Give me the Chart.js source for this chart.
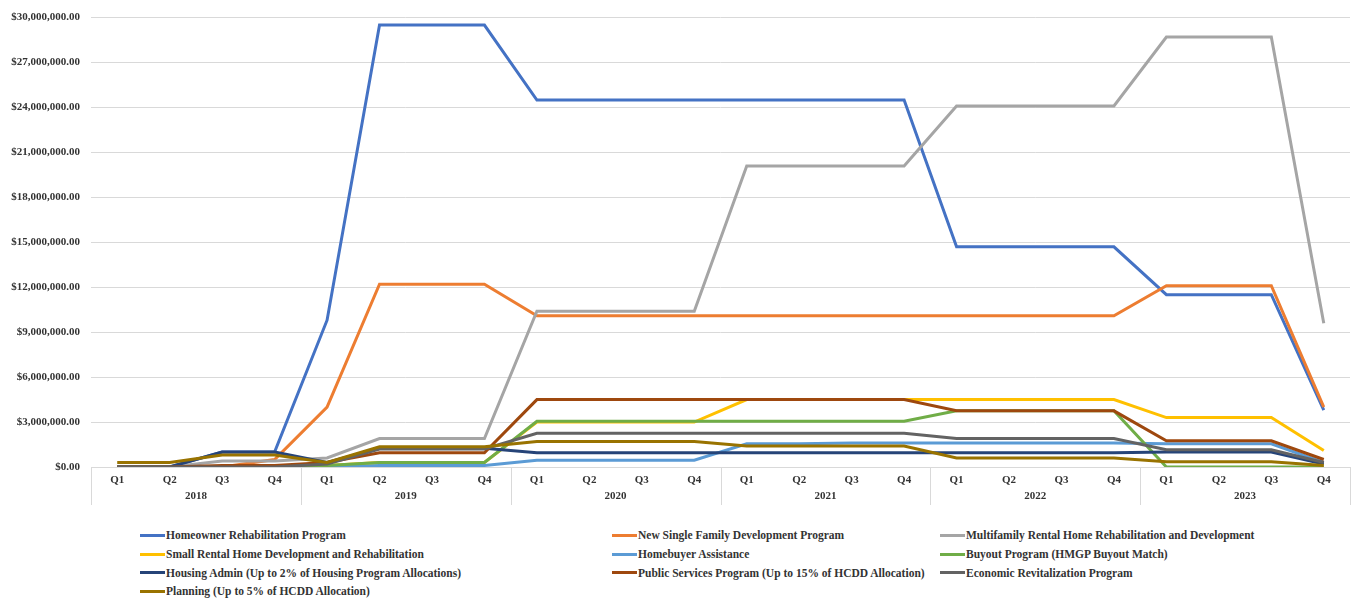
<!DOCTYPE html>
<html>
<head>
<meta charset="utf-8">
<script src="https://cdn.jsdelivr.net/npm/chart.js@4.4.1/dist/chart.umd.min.js"></script>
<style>
  html, body { margin: 0; padding: 0; background: #fff; }
  body { width: 1353px; height: 605px; position: relative; overflow: hidden;
         font-family: "Liberation Serif", "DejaVu Serif", serif; }
  #wrap { position: absolute; left: 0; top: 0; width: 1353px; height: 515px; }
  #legend { position: absolute; left: 140px; top: 526px;
            display: grid; grid-template-columns: 472px 328px 400px; grid-auto-rows: 18.7px; }
  .lg-item { display: flex; align-items: center; font-size: 11.5px; font-weight: bold; color: #333; white-space: nowrap; }
  .lg-swatch { width: 25px; height: 3px; margin-right: 1px; }
</style>
</head>
<body>
<div id="wrap"><canvas id="chart"></canvas></div>
<div id="legend"></div>
<script>
const years = ['2018', '2019', '2020', '2021', '2022', '2023'];
const quarters = ['Q1', 'Q2', 'Q3', 'Q4'];

const seriesNames = [
  'Homeowner Rehabilitation Program',
  'New Single Family Development Program',
  'Multifamily Rental Home Rehabilitation and Development',
  'Small Rental Home Development and Rehabilitation',
  'Homebuyer Assistance',
  'Buyout Program (HMGP Buyout Match)',
  'Housing Admin (Up to 2% of Housing Program Allocations)',
  'Public Services Program (Up to 15% of HCDD Allocation)',
  'Economic Revitalization Program',
  'Planning (Up to 5% of HCDD Allocation)'
];
const seriesColors = ['#4472C4', '#ED7D31', '#A5A5A5', '#FFC000', '#5B9BD5',
                      '#70AD47', '#264478', '#9E480E', '#636363', '#997300'];

// quarterly values, 2018 Q1 .. 2023 Q4
const homeowner = [0, 0, 1000000, 1000000, 9800000, 29500000, 29500000, 29500000,
  24500000, 24500000, 24500000, 24500000, 24500000, 24500000, 24500000, 24500000,
  14700000, 14700000, 14700000, 14700000, 11500000, 11500000, 11500000, 3800000];
const newSingleFamily = [0, 0, 0, 500000, 4000000, 12200000, 12200000, 12200000,
  10100000, 10100000, 10100000, 10100000, 10100000, 10100000, 10100000, 10100000,
  10100000, 10100000, 10100000, 10100000, 12100000, 12100000, 12100000, 4000000];
const multifamily = [0, 0, 400000, 400000, 600000, 1900000, 1900000, 1900000,
  10400000, 10400000, 10400000, 10400000, 20100000, 20100000, 20100000, 20100000,
  24100000, 24100000, 24100000, 24100000, 28700000, 28700000, 28700000, 9600000];
const smallRental = [0, 0, 0, 0, 100000, 300000, 300000, 300000,
  3000000, 3000000, 3000000, 3000000, 4500000, 4500000, 4500000, 4500000,
  4500000, 4500000, 4500000, 4500000, 3300000, 3300000, 3300000, 1100000];
const homebuyer = [0, 0, 0, 0, 0, 100000, 100000, 100000,
  450000, 450000, 450000, 450000, 1550000, 1550000, 1600000, 1600000,
  1600000, 1600000, 1600000, 1600000, 1550000, 1550000, 1550000, 300000];
const buyout = [0, 0, 0, 0, 100000, 300000, 300000, 300000,
  3050000, 3050000, 3050000, 3050000, 3050000, 3050000, 3050000, 3050000,
  3750000, 3750000, 3750000, 3750000, 0, 0, 0, 0];
const housingAdmin = [0, 0, 1000000, 1000000, 300000, 1250000, 1250000, 1250000,
  950000, 950000, 950000, 950000, 950000, 950000, 950000, 950000,
  950000, 950000, 950000, 950000, 1000000, 1000000, 1000000, 200000];
const publicServices = [0, 0, 100000, 100000, 300000, 950000, 950000, 950000,
  4500000, 4500000, 4500000, 4500000, 4500000, 4500000, 4500000, 4500000,
  3750000, 3750000, 3750000, 3750000, 1750000, 1750000, 1750000, 500000];
const economicRevitalization = [0, 0, 0, 0, 200000, 1200000, 1200000, 1200000,
  2250000, 2250000, 2250000, 2250000, 2250000, 2250000, 2250000, 2250000,
  1900000, 1900000, 1900000, 1900000, 1150000, 1150000, 1150000, 300000];
const planning = [300000, 300000, 800000, 800000, 300000, 1350000, 1350000, 1350000,
  1700000, 1700000, 1700000, 1700000, 1400000, 1400000, 1400000, 1400000,
  600000, 600000, 600000, 600000, 350000, 350000, 350000, 100000];

const seriesValues = [homeowner, newSingleFamily, multifamily, smallRental, homebuyer,
  buyout, housingAdmin, publicServices, economicRevitalization, planning];

const yMax = 30000000;
const yStep = 3000000;

const labels = [];
years.forEach(() => quarters.forEach(q => labels.push(q)));

const FONT = "'Liberation Serif', 'DejaVu Serif', serif";
const TEXT = '#333333';
const GRID = '#d9d9d9';

function money(v) {
  return '$' + Number(v).toLocaleString('en-US', { minimumFractionDigits: 2, maximumFractionDigits: 2 });
}

// year row + group separators below the quarter labels
const yearAxisPlugin = {
  id: 'yearAxis',
  afterDraw(chart) {
    const { ctx, chartArea, scales } = chart;
    const x = scales.x;
    const band = (chartArea.right - chartArea.left) / labels.length;
    ctx.save();
    ctx.strokeStyle = GRID;
    ctx.lineWidth = 1;
    for (let i = 0; i <= years.length; i++) {
      const px = Math.round(chartArea.left + i * quarters.length * band) + 0.5;
      ctx.beginPath();
      ctx.moveTo(px, chartArea.bottom);
      ctx.lineTo(px, chartArea.bottom + 38);
      ctx.stroke();
    }
    ctx.fillStyle = TEXT;
    ctx.font = `bold 11px ${FONT}`;
    ctx.textAlign = 'center';
    ctx.textBaseline = 'middle';
    years.forEach((yr, i) => {
      const a = x.getPixelForValue(i * quarters.length);
      const b = x.getPixelForValue(i * quarters.length + quarters.length - 1);
      ctx.fillText(yr, (a + b) / 2, chartArea.bottom + 29);
    });
    ctx.restore();
  }
};

const datasets = seriesNames.map((name, i) => ({
  label: name,
  data: seriesValues[i],
  borderColor: seriesColors[i],
  backgroundColor: seriesColors[i],
  borderWidth: 3,
  pointRadius: 0,
  tension: 0,
  fill: false,
  order: seriesNames.length - i
}));

new Chart(document.getElementById('chart'), {
  type: 'line',
  data: { labels, datasets },
  options: {
    responsive: true,
    maintainAspectRatio: false,
    animation: false,
    layout: { padding: { top: 11, right: 3, left: 0, bottom: 0 } },
    plugins: { legend: { display: false }, tooltip: { enabled: false } },
    scales: {
      x: {
        offset: true,
        grid: { display: false, drawTicks: false, tickLength: 0 },
        border: { color: GRID },
        ticks: { color: TEXT, font: { family: FONT, size: 11, weight: 'bold' }, padding: 7,
                 maxRotation: 0, autoSkip: false },
        afterFit(s) { s.height = 48; }
      },
      y: {
        min: 0,
        max: yMax,
        grid: { color: GRID, drawTicks: false },
        border: { display: false },
        ticks: { stepSize: yStep, color: TEXT, padding: 11,
                 font: { family: FONT, size: 11, weight: 'bold' },
                 callback: v => money(v) },
        afterFit(s) { s.width = 91; }
      }
    }
  },
  plugins: [yearAxisPlugin]
});

const legendEl = document.getElementById('legend');
seriesNames.forEach((name, i) => {
  const item = document.createElement('div');
  item.className = 'lg-item';
  item.innerHTML = `<span class="lg-swatch" style="background:${seriesColors[i]}"></span><span>${name}</span>`;
  legendEl.appendChild(item);
});
</script>
</body>
</html>
